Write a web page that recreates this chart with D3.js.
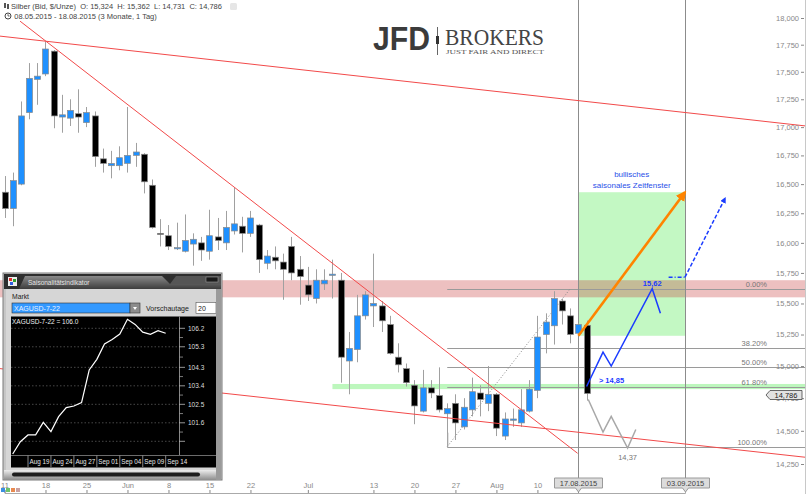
<!DOCTYPE html>
<html lang="de">
<head>
<meta charset="utf-8">
<title>Silber Saisonalität</title>
<script src="https://d3js.org/d3.v7.min.js"></script>
<style>
  body { margin: 0; background: #fff; }
  svg { display: block; font-family: "Liberation Sans", Arial, sans-serif; }
</style>
</head>
<body>
<script>
// ---- data ----
const opens = [16.43,16.29,16.50,17.13,17.43,17.48,17.69,17.09,17.08,17.12,
  17.04,17.10,16.72,16.66,16.66,16.68,16.75,16.76,16.49,16.08,
  16.06,15.95,15.93,15.99,16.00,15.93,16.05,16.00,16.10,16.14,
  16.08,16.15,15.83,15.88,15.84,15.97,15.78,15.65,15.54,15.66,
  15.73,15.69,15.04,15.13,15.40,15.48,15.48,15.33,15.07,14.98,
  14.85,14.65,14.83,14.77,14.63,14.71,14.53,14.66,14.79,14.71,
  14.78,14.46,14.58,14.56,14.65,14.81,15.25,15.32,15.52,15.40,
  15.26,15.324];
const highs = [16.57,16.60,17.23,17.58,17.58,17.78,17.70,17.29,17.25,17.34,
  17.18,17.14,16.81,16.79,16.83,17.18,16.86,16.77,16.54,16.20,
  16.15,16.17,16.24,16.08,16.05,16.28,16.21,16.27,16.47,16.22,
  16.27,16.16,15.94,15.97,15.91,16.05,15.89,15.80,15.78,15.78,
  15.86,15.75,15.27,15.57,15.60,15.91,15.52,15.40,15.18,15.02,
  14.89,14.97,14.89,14.99,14.71,14.78,14.75,14.91,14.85,15.00,
  14.79,14.64,14.67,14.82,14.89,15.40,15.42,15.60,15.54,15.46,
  15.34,15.362];
const lows = [16.21,16.14,16.49,17.07,17.20,17.46,16.99,16.95,17.01,16.95,
  17.00,16.65,16.60,16.55,16.62,16.60,16.65,16.42,16.12,15.97,
  15.94,15.94,15.92,15.81,15.85,15.86,15.94,15.94,16.07,15.92,
  16.05,15.75,15.78,15.78,15.53,15.69,15.49,15.52,15.50,15.61,
  15.54,14.87,14.78,15.03,15.37,15.31,15.27,15.09,14.95,14.84,
  14.55,14.64,14.75,14.64,14.48,14.43,14.51,14.61,14.61,14.65,
  14.46,14.43,14.53,14.53,14.64,14.75,15.10,15.17,15.33,15.18,
  15.25,14.731];
const closes = [16.29,16.53,17.10,17.44,17.46,17.71,17.10,17.11,17.15,17.09,
  17.13,16.74,16.68,16.68,16.73,16.75,16.78,16.52,16.13,16.07,
  15.97,15.96,16.02,16.03,15.94,16.06,16.02,16.13,16.16,16.08,
  16.21,15.86,15.89,15.85,15.78,15.75,15.72,15.57,15.69,15.69,
  15.74,15.07,15.14,15.40,15.57,15.50,15.36,15.10,15.01,14.87,
  14.69,14.83,14.79,14.66,14.67,14.56,14.68,14.80,14.74,14.78,
  14.52,14.59,14.59,14.66,14.82,15.23,15.35,15.54,15.44,15.25,
  15.33,14.786];

const tickDates = ["2015-05-11","2015-05-18","2015-05-25","2015-06-01","2015-06-08","2015-06-15",
  "2015-06-22","2015-07-01","2015-07-13","2015-07-20","2015-07-27","2015-08-03","2015-08-10"];
const tickLabels = ["11","18","25","Jun","8","15","22","Jul","13","20","27","Aug","10"];
const priceTicks = [14.25,14.5,14.75,15,15.25,15.5,15.75,16,16.25,16.5,16.75,17,17.25,17.5,17.75,18];

// drawn objects (trading-day index, price)
const trendHigh = {i: [-0.55, 97.75], p: [17.83, 17.01]};
const trendFall = {i: [1.9, 69.9], p: [17.97, 14.33]};
const trendLow = {i: [-0.55, 97.75], p: [14.98, 14.30]};
const resistBand = [15.55, 15.69];
const supportBand = [14.82, 14.86];
const supportStart = 40;
const fibLabels = ["0.00%","38.20%","50.00%","61.80%","100.00%"];
const fibPrices = [15.62, 15.14, 14.99, 14.84, 14.38];
const fibFrom = {i: 54, p: 14.38}, fibTo = {i: 69, p: 15.62};
const windowDates = ["2015-08-17", "2015-09-03"];
const windowPrices = [15.24, 16.43];
const orangeArrow = {i: [70, 83], p: [15.24, 16.43]};
const bluePath = {i: [71, 73, 74, 79, 80], p: [14.84, 15.11, 15.00, 15.62, 15.42]};
const blueDash = {i: [81, 83, 87.9], p: [15.715, 15.715, 16.38]};
const grayPath = {i: [71.2, 73, 74, 76, 77], p: [14.74, 14.49, 14.61, 14.37, 14.51]};

// seasonal indicator (inset)
const seasonal = [100.08,100.68,101.01,101.01,101.62,101.17,101.90,102.34,102.42,102.58,
  104.17,104.69,105.44,105.66,105.92,106.64,106.39,106.01,105.91,106.08,105.96];
const seasonTicks = [101.6, 102.5, 103.4, 104.3, 105.3, 106.2];
const seasonGrid = [100.7, 101.6, 102.5, 103.4, 104.3, 105.3, 106.2];
const seasonDateIdx = [2, 5, 8, 11, 14, 17, 20];
const seasonDateLabels = ["Aug 19","Aug 24","Aug 27","Sep 01","Sep 04","Sep 09","Sep 14"];

// ---- setup ----
const W = 806, H = 494;
const svg = d3.select("body").append("svg").attr("width", W).attr("height", H);

const days = d3.timeDay.range(new Date(2015, 4, 11), new Date(2015, 8, 20))
  .filter(d => d.getDay() !== 0 && d.getDay() !== 6);
const iso = d3.timeFormat("%Y-%m-%d");
const idxOf = s => days.findIndex(d => iso(d) === s);

const x = d3.scaleLinear().domain([0, 83]).range([4.5, 685]);
const y = d3.scaleLog().domain([14.25, 18]).range([464, 18]);
const comma = v => v.toFixed(3).replace(".", ",");

const defs = svg.append("defs");
function marker(id, color) {
  defs.append("marker").attr("id", id).attr("viewBox", "0 0 10 10")
    .attr("refX", 8).attr("refY", 5).attr("markerWidth", 4).attr("markerHeight", 4)
    .attr("orient", "auto")
    .append("path").attr("d", "M0,0 L10,5 L0,10 z").attr("fill", color);
}
marker("arrOrange", "#ff8400");
marker("arrBlue", "#1b3cff");

// ---- background zones ----
const x0 = x(idxOf(windowDates[0])), x1 = x(idxOf(windowDates[1]));
svg.append("rect").attr("x", x0).attr("width", x1 - x0)
  .attr("y", y(windowPrices[1])).attr("height", y(windowPrices[0]) - y(windowPrices[1]))
  .attr("fill", "#c3f8c3");

svg.append("rect").attr("x", 0).attr("width", W)
  .attr("y", y(resistBand[1])).attr("height", y(resistBand[0]) - y(resistBand[1]))
  .attr("fill", "rgba(200,60,60,0.32)");

svg.append("rect").attr("x", x(supportStart)).attr("width", W - x(supportStart))
  .attr("y", y(supportBand[1])).attr("height", y(supportBand[0]) - y(supportBand[1]))
  .attr("fill", "rgba(90,235,90,0.4)");

// fibonacci
const fibG = svg.append("g");
fibG.selectAll("line").data(fibPrices).join("line")
  .attr("x1", x(fibFrom.i)).attr("x2", W)
  .attr("y1", d => Math.round(y(d)) + 0.5).attr("y2", d => Math.round(y(d)) + 0.5)
  .attr("stroke", "#9a9a9a").attr("stroke-width", 1);
fibG.selectAll("text").data(fibPrices).join("text")
  .attr("x", 767).attr("y", d => y(d) - 2)
  .attr("text-anchor", "end").attr("font-size", 7.5).attr("fill", "#777")
  .text((d, k) => fibLabels[k]);
fibG.append("line")
  .attr("x1", x(fibFrom.i)).attr("y1", y(fibFrom.p))
  .attr("x2", x(fibTo.i)).attr("y2", y(fibTo.p))
  .attr("stroke", "#888").attr("stroke-dasharray", "1,2");
fibG.append("line")
  .attr("x1", x(fibFrom.i) + 0.5).attr("x2", x(fibFrom.i) + 0.5)
  .attr("y1", y(fibFrom.p) - 14).attr("y2", y(fibFrom.p))
  .attr("stroke", "#888");

// vertical date lines
[idxOf(windowDates[0]), idxOf(windowDates[1])].forEach(i => {
  svg.append("line").attr("x1", Math.round(x(i)) + 0.5).attr("x2", Math.round(x(i)) + 0.5)
    .attr("y1", 0).attr("y2", 493).attr("stroke", "#8c8c8c");
});

// ---- candles ----
const candles = d3.range(opens.length).map(i => ({i, o: opens[i], h: highs[i], l: lows[i], c: closes[i]}));
const cg = svg.append("g");
cg.selectAll("line").data(candles).join("line")
  .attr("x1", d => Math.round(x(d.i)) + 0.5).attr("x2", d => Math.round(x(d.i)) + 0.5)
  .attr("y1", d => y(d.h)).attr("y2", d => y(d.l))
  .attr("stroke", "#a0a0a0");
cg.selectAll("rect").data(candles).join("rect")
  .attr("x", d => Math.round(x(d.i)) - 2.5).attr("width", 6)
  .attr("y", d => y(Math.max(d.o, d.c)))
  .attr("height", d => Math.max(1, Math.abs(y(d.o) - y(d.c))))
  .attr("fill", d => d.c >= d.o ? "#1e90ff" : "#000")
  .attr("stroke", "#8a8a8a").attr("stroke-width", 0.7);

// ---- trend lines ----
[trendHigh, trendFall, trendLow].forEach(t => {
  svg.append("line")
    .attr("x1", x(t.i[0])).attr("y1", y(t.p[0]))
    .attr("x2", x(t.i[1])).attr("y2", y(t.p[1]))
    .attr("stroke", "#f24a4a").attr("stroke-width", 1);
});

// ---- scenario paths ----
const pathOf = o => o.i.map((v, k) => [x(v), y(o.p[k])]);
const line = d3.line();

svg.append("path").attr("d", line(pathOf(grayPath)))
  .attr("fill", "none").attr("stroke", "#a8a8a8").attr("stroke-width", 1.5);

svg.append("path").attr("d", line(pathOf(bluePath)))
  .attr("fill", "none").attr("stroke", "#1b3cff").attr("stroke-width", 1.5);

const bd = pathOf(blueDash);
svg.append("path").attr("d", line(bd.slice(0, 2)))
  .attr("fill", "none").attr("stroke", "#1b3cff").attr("stroke-width", 1.5)
  .attr("stroke-dasharray", "4,2,1,2");
svg.append("path").attr("d", line(bd.slice(1)))
  .attr("fill", "none").attr("stroke", "#1b3cff").attr("stroke-width", 1.5)
  .attr("stroke-dasharray", "4,2").attr("marker-end", "url(#arrBlue)");

svg.append("path").attr("d", line(pathOf(orangeArrow)))
  .attr("fill", "none").attr("stroke", "#ff8400").attr("stroke-width", 2.6)
  .attr("marker-end", "url(#arrOrange)");

// labels on the scenarios
svg.append("text").attr("x", x(79)).attr("y", y(15.62) - 3)
  .attr("text-anchor", "middle").attr("font-size", 7.5).attr("font-weight", "bold")
  .attr("fill", "#1b3cff").text("15,62");
svg.append("text").attr("x", x(72.5)).attr("y", y(14.85) - 2)
  .attr("font-size", 7.5).attr("font-weight", "bold")
  .attr("fill", "#1b3cff").text("> 14,85");
svg.append("text").attr("x", x(76)).attr("y", y(14.37) + 12)
  .attr("text-anchor", "middle").attr("font-size", 7.5)
  .attr("fill", "#777").text("14,37");
svg.append("text").attr("x", (x0 + x1) / 2).attr("y", 177)
  .attr("text-anchor", "middle").attr("font-size", 8).attr("fill", "#2a4fe8").text("bullisches");
svg.append("text").attr("x", (x0 + x1) / 2).attr("y", 188)
  .attr("text-anchor", "middle").attr("font-size", 8).attr("fill", "#2a4fe8").text("saisonales Zeitfenster");

// ---- axes ----
const yAxis = d3.axisLeft(y).tickValues(priceTicks).tickFormat(comma).tickSize(3).tickPadding(2);
const ya = svg.append("g").attr("transform", "translate(804,0)").call(yAxis);
ya.select(".domain").remove();
ya.selectAll("line").attr("stroke", "#888");
ya.selectAll("text").attr("fill", "#888").attr("font-size", 7.5)
  .attr("font-family", "Liberation Sans, Arial, sans-serif");
svg.append("line").attr("x1", 805.5).attr("x2", 805.5).attr("y1", 0).attr("y2", H)
  .attr("stroke", "#c8c8c8");

const xAxis = d3.axisTop(x).tickValues(tickDates.map(idxOf))
  .tickFormat((d, k) => tickLabels[k]).tickSize(3).tickPadding(2);
const xa = svg.append("g").attr("transform", "translate(0,493)").call(xAxis);
xa.select(".domain").attr("stroke", "#aaa");
xa.selectAll("line").attr("stroke", "#888");
xa.selectAll("text").attr("fill", "#888").attr("font-size", 7.5)
  .attr("font-family", "Liberation Sans, Arial, sans-serif");

// date boxes on the x axis
const dmy = d3.timeFormat("%d.%m.%Y");
windowDates.forEach(s => {
  const i = idxOf(s), cx = Math.round(x(i)) + 0.5;
  const g = svg.append("g");
  g.append("path")
    .attr("d", `M${cx - 24},478 H${cx + 24} V488 H${cx + 3} L${cx},492 L${cx - 3},488 H${cx - 24} Z`)
    .attr("fill", "#dcdcdc").attr("stroke", "#9a9a9a");
  g.append("text").attr("x", cx).attr("y", 486).attr("text-anchor", "middle")
    .attr("font-size", 7.5).attr("fill", "#444").text(dmy(days[i]));
});

// last price tag (sits over the 14,750 label, as in the original)
const lastY = y(closes[closes.length - 1]) + 1.5;
svg.append("path")
  .attr("d", `M766,${lastY} L770,${lastY - 4.5} H802 V${lastY + 4.5} H770 Z`)
  .attr("fill", "#e2e2e2").attr("stroke", "#444").attr("stroke-width", 0.8);
svg.append("text").attr("x", 786).attr("y", lastY + 2.7).attr("text-anchor", "middle")
  .attr("font-size", 7.5).attr("fill", "#222").text(comma(closes[closes.length - 1]));

// small icons bottom left
[["#3b8fe0", 1], ["#6cc26c", 6], ["#e88a50", 11], ["#c9a0a0", 16]].forEach(([c, px]) => {
  svg.append("rect").attr("x", px).attr("y", 488).attr("width", 4).attr("height", 4).attr("fill", c);
});

// ---- inset: Saisonalitätsindikator ----
const P = svg.append("g");
const grad = defs.append("linearGradient").attr("id", "titleGrad").attr("x1", 0).attr("y1", 0).attr("x2", 0).attr("y2", 1);
grad.append("stop").attr("offset", "0").attr("stop-color", "#8a8a8a");
grad.append("stop").attr("offset", "1").attr("stop-color", "#3c3c3c");
const grad2 = defs.append("linearGradient").attr("id", "footGrad").attr("x1", 0).attr("y1", 0).attr("x2", 0).attr("y2", 1);
grad2.append("stop").attr("offset", "0").attr("stop-color", "#ececec");
grad2.append("stop").attr("offset", "1").attr("stop-color", "#8c8c8c");

P.append("rect").attr("x", 3).attr("y", 273).attr("width", 219).attr("height", 207)
  .attr("fill", "#c6c6c6").attr("stroke", "#7a7a7a");
P.append("rect").attr("x", 4).attr("y", 274).attr("width", 217).attr("height", 15)
  .attr("fill", "#2e2e2e");
P.append("path").attr("d", "M19,289 L25,276 L162,276 L170,284 L221,284 L221,289 Z")
  .attr("fill", "url(#titleGrad)");
P.append("path").attr("d", "M170,284 L176,276 L221,276 L221,284 Z").attr("fill", "#555");
P.append("rect").attr("x", 206).attr("y", 277).attr("width", 12).attr("height", 5)
  .attr("fill", "#1a1a1a").attr("stroke", "#999").attr("stroke-width", 0.6);
P.append("rect").attr("x", 8).attr("y", 277).attr("width", 9).attr("height", 9).attr("fill", "#eee");
P.append("rect").attr("x", 9).attr("y", 278).attr("width", 3).attr("height", 3).attr("fill", "#e03030");
P.append("rect").attr("x", 13).attr("y", 279).attr("width", 3).attr("height", 3).attr("fill", "#30a030");
P.append("rect").attr("x", 10).attr("y", 282).attr("width", 3).attr("height", 3).attr("fill", "#3060e0");
P.append("text").attr("x", 28).attr("y", 284.5).attr("font-size", 6.5).attr("fill", "#e6e6e6")
  .text("Saisonalitätsindikator");

P.append("rect").attr("x", 6).attr("y", 289).attr("width", 213).attr("height", 182).attr("fill", "#d6d6d6");
P.append("text").attr("x", 12).attr("y", 299).attr("font-size", 6.8).attr("fill", "#222").text("Markt");
P.append("rect").attr("x", 12).attr("y", 303).attr("width", 118).attr("height", 10)
  .attr("fill", "#3399ff").attr("stroke", "#333").attr("stroke-width", 0.6);
P.append("text").attr("x", 14).attr("y", 311).attr("font-size", 7).attr("fill", "#eaf2ff").text("XAGUSD-7-22");
P.append("rect").attr("x", 130).attr("y", 303).attr("width", 10).attr("height", 10)
  .attr("fill", "#8c8c8c").attr("stroke", "#333").attr("stroke-width", 0.6);
P.append("path").attr("d", "M133,307 L137,307 L135,310 Z").attr("fill", "#fff");
P.append("text").attr("x", 146).attr("y", 311).attr("font-size", 7).attr("fill", "#222").text("Vorschautage");
P.append("rect").attr("x", 196).attr("y", 302.5).attr("width", 20).attr("height", 11)
  .attr("fill", "#fff").attr("stroke", "#555").attr("stroke-width", 0.6);
P.append("text").attr("x", 198).attr("y", 311).attr("font-size", 7).attr("fill", "#222").text("20");

P.append("rect").attr("x", 11).attr("y", 316.5).attr("width", 205).attr("height", 151).attr("fill", "#000");

const sx = d3.scaleLinear().domain([0, 20]).range([12.7, 165.7]);
const sy = d3.scaleLinear().domain([100.7, 106.2]).range([441.3, 328.3]);

P.selectAll("line.grid").data(seasonGrid).join("line").attr("class", "grid")
  .attr("x1", 11).attr("x2", 179).attr("y1", d => sy(d)).attr("y2", d => sy(d))
  .attr("stroke", "#777").attr("stroke-width", 0.6).attr("stroke-dasharray", "1.5,2");
P.append("line").attr("x1", 179.5).attr("x2", 179.5).attr("y1", 316.5).attr("y2", 455)
  .attr("stroke", "#aaa").attr("stroke-width", 0.8);
P.selectAll("line.tk").data(seasonGrid).join("line").attr("class", "tk")
  .attr("x1", 179).attr("x2", 185).attr("y1", d => sy(d)).attr("y2", d => sy(d))
  .attr("stroke", "#bbb").attr("stroke-width", 0.8);
P.selectAll("line.mtk").data(d3.pairs(seasonGrid)).join("line").attr("class", "mtk")
  .attr("x1", 179).attr("x2", 183).attr("y1", d => sy((d[0] + d[1]) / 2)).attr("y2", d => sy((d[0] + d[1]) / 2))
  .attr("stroke", "#999").attr("stroke-width", 0.8);
P.selectAll("text.yl").data(seasonTicks).join("text").attr("class", "yl")
  .attr("x", 188).attr("y", d => sy(d) + 2.3).attr("font-size", 6.5).attr("fill", "#ddd")
  .text(d => d.toFixed(1));

P.append("line").attr("x1", 11).attr("x2", 216).attr("y1", 455.5).attr("y2", 455.5)
  .attr("stroke", "#888").attr("stroke-width", 0.8);
P.selectAll("line.sep").data(seasonDateIdx).join("line").attr("class", "sep")
  .attr("x1", d => sx(d)).attr("x2", d => sx(d)).attr("y1", 455.5).attr("y2", 467)
  .attr("stroke", "#aaa").attr("stroke-width", 0.8);
P.selectAll("text.xl").data(seasonDateIdx).join("text").attr("class", "xl")
  .attr("x", d => sx(d) + 1.5).attr("y", 464).attr("font-size", 6.3).attr("fill", "#e8e8e8")
  .text((d, k) => seasonDateLabels[k]);

P.append("path").attr("d", d3.line().x((d, k) => sx(k)).y(d => sy(d))(seasonal))
  .attr("fill", "none").attr("stroke", "#fff").attr("stroke-width", 1.2);
P.append("text").attr("x", 12).attr("y", 323.5).attr("font-size", 6.5).attr("fill", "#eee")
  .text("XAGUSD-7-22 = " + seasonal[seasonal.length - 1].toFixed(1));

P.append("rect").attr("x", 4).attr("y", 470).attr("width", 217).attr("height", 10).attr("fill", "url(#footGrad)");
P.append("rect").attr("x", 12).attr("y", 472.5).attr("width", 188).attr("height", 4).attr("rx", 2)
  .attr("fill", "#1e1e1e");
P.append("rect").attr("x", 216).attr("y", 289).attr("width", 5).attr("height", 191).attr("fill", "#9a9a9a");

// ---- logo ----
const L = svg.append("g");
L.append("text").attr("x", 373).attr("y", 50).attr("font-size", 34).attr("font-weight", "bold")
  .attr("fill", "#3b3b3b").attr("textLength", 57).attr("lengthAdjust", "spacingAndGlyphs").text("JFD");
L.append("line").attr("x1", 437.5).attr("x2", 437.5).attr("y1", 27).attr("y2", 55).attr("stroke", "#666");
L.append("rect").attr("x", 436).attr("y", 36).attr("width", 3).attr("height", 8).attr("fill", "#333");
L.append("text").attr("x", 445).attr("y", 44.5).attr("font-size", 24)
  .attr("font-family", "Liberation Serif, Times New Roman, serif")
  .attr("fill", "#444").attr("textLength", 99).attr("lengthAdjust", "spacingAndGlyphs").text("BROKERS");
L.append("text").attr("x", 446).attr("y", 54).attr("font-size", 6.5)
  .attr("font-family", "Liberation Serif, Times New Roman, serif")
  .attr("fill", "#555").attr("textLength", 98).attr("lengthAdjust", "spacingAndGlyphs")
  .text("JUST FAIR AND DIRECT");

// ---- header ----
const Hd = svg.append("g");
Hd.append("rect").attr("x", 4).attr("y", 3).attr("width", 2).attr("height", 5).attr("fill", "#555");
Hd.append("rect").attr("x", 7).attr("y", 4).attr("width", 2).attr("height", 5).attr("fill", "#555");
Hd.append("text").attr("x", 11).attr("y", 9).attr("font-size", 7.5).attr("fill", "#444")
  .style("white-space", "pre")
  .text("Silber (Bid, $/Unze)  O: 15,324  H: 15,362  L: 14,731  C: 14,786");
Hd.append("rect").attr("x", 230).attr("y", 3).attr("width", 7).attr("height", 7).attr("rx", 1.5)
  .attr("fill", "#e6e6e6");
Hd.append("circle").attr("cx", 8).attr("cy", 16).attr("r", 3).attr("fill", "none").attr("stroke", "#444");
Hd.append("path").attr("d", "M8,14.2 V16 H9.6").attr("fill", "none").attr("stroke", "#444").attr("stroke-width", 0.8);
Hd.append("text").attr("x", 14.3).attr("y", 19).attr("font-size", 7.5).attr("fill", "#444")
  .text("08.05.2015 - 18.08.2015 (3 Monate, 1 Tag)");
</script>
</body>
</html>
